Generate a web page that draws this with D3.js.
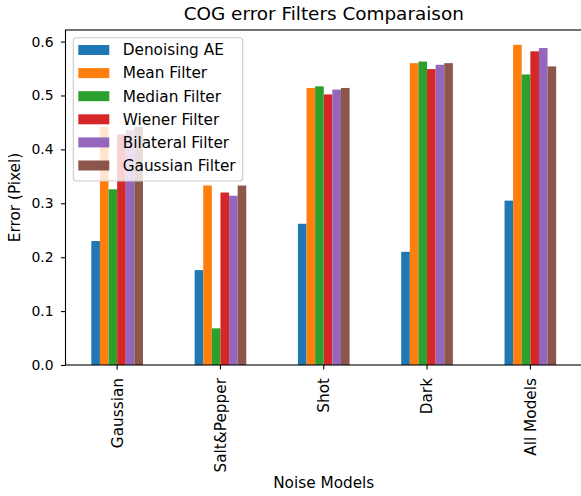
<!DOCTYPE html>
<html>
<head>
<meta charset="utf-8">
<script src="https://cdn.jsdelivr.net/npm/d3@7"></script>
<style>
  body { margin: 0; background: #fff; }
  svg { font-family: "DejaVu Sans", sans-serif; }
</style>
</head>
<body>
<svg id="chart" width="581" height="496"></svg>
<script>
// noise models on the x axis
const noiseModels = ["Gaussian", "Salt&Pepper", "Shot", "Dark", "All Models"];

// one series per filter
const filterNames = ["Denoising AE", "Mean Filter", "Median Filter", "Wiener Filter", "Bilateral Filter", "Gaussian Filter"];
const denoisingAE = [0.230, 0.176, 0.262, 0.210, 0.305];
const meanFilter = [0.442, 0.333, 0.514, 0.560, 0.594];
const medianFilter = [0.326, 0.068, 0.517, 0.563, 0.539];
const wienerFilter = [0.428, 0.320, 0.502, 0.549, 0.582];
const bilateralFilter = [0.436, 0.314, 0.511, 0.557, 0.588];
const gaussianFilter = [0.442, 0.333, 0.514, 0.560, 0.554];

const yTicks = [0.0, 0.1, 0.2, 0.3, 0.4, 0.5, 0.6];
const colors = ["#1f77b4", "#ff7f0e", "#2ca02c", "#d62728", "#9467bd", "#8c564b"];

const series = [denoisingAE, meanFilter, medianFilter, wienerFilter, bilateralFilter, gaussianFilter];

const MARGIN = { LEFT: 65.5, RIGHT: 582, TOP: 30, BOTTOM: 365 };
const FONT = "15.3px";
const svg = d3.select("#chart");

// pandas style: groups take half of each slot
const x = d3.scaleBand()
  .domain(noiseModels)
  .range([MARGIN.LEFT, MARGIN.RIGHT])
  .paddingInner(0.5)
  .paddingOuter(0.25);

const xInner = d3.scaleBand()
  .domain(filterNames)
  .range([0, x.bandwidth()]);

const y = d3.scaleLinear()
  .domain([0, 0.6215])
  .range([MARGIN.BOTTOM, MARGIN.TOP]);

// bars
filterNames.forEach((name, i) => {
  svg.append("g")
    .attr("fill", colors[i])
    .selectAll("rect")
    .data(series[i])
    .join("rect")
    .attr("x", (d, j) => x(noiseModels[j]) + xInner(name))
    .attr("y", (d) => y(d))
    .attr("width", xInner.bandwidth())
    .attr("height", (d) => y(0) - y(d));
});

// axes
const yAxis = svg.append("g")
  .attr("transform", `translate(${MARGIN.LEFT},0)`)
  .call(d3.axisLeft(y).tickValues(yTicks).tickFormat(d3.format(".1f")).tickSize(4.5).tickPadding(7.5));

const xAxis = svg.append("g")
  .attr("transform", `translate(0,${MARGIN.BOTTOM})`)
  .call(d3.axisBottom(x).tickSize(4.5).tickPadding(3.5));

[yAxis, xAxis].forEach((g) => {
  g.select(".domain").remove();
  g.selectAll(".tick line").attr("stroke", "#000").attr("stroke-width", 1.1);
  g.selectAll(".tick text").attr("fill", "#000").style("font-family", "DejaVu Sans, sans-serif");
});
yAxis.selectAll(".tick text").style("font-size", "13.9px");

xAxis.selectAll(".tick text")
  .style("font-size", FONT)
  .attr("transform", "rotate(-90)")
  .attr("text-anchor", "end")
  .attr("x", -13)
  .attr("y", 0)
  .attr("dy", "0.35em");

// frame
svg.append("rect")
  .attr("x", MARGIN.LEFT)
  .attr("y", MARGIN.TOP)
  .attr("width", MARGIN.RIGHT - MARGIN.LEFT)
  .attr("height", MARGIN.BOTTOM - MARGIN.TOP)
  .attr("fill", "none")
  .attr("stroke", "#000")
  .attr("stroke-width", 1.1);

// title and axis labels
svg.append("text")
  .attr("x", (MARGIN.LEFT + MARGIN.RIGHT) / 2)
  .attr("y", 20)
  .attr("text-anchor", "middle")
  .style("font-size", "18.4px")
  .text("COG error Filters Comparaison");

svg.append("text")
  .attr("x", (MARGIN.LEFT + MARGIN.RIGHT) / 2)
  .attr("y", 488)
  .attr("text-anchor", "middle")
  .style("font-size", FONT)
  .text("Noise Models");

svg.append("text")
  .attr("transform", `translate(20,${(MARGIN.TOP + MARGIN.BOTTOM) / 2}) rotate(-90)`)
  .attr("text-anchor", "middle")
  .style("font-size", FONT)
  .text("Error (Pixel)");

// legend
const legend = svg.append("g").attr("transform", "translate(73.3,37.7)");
legend.append("rect")
  .attr("width", 169.4)
  .attr("height", 143.3)
  .attr("rx", 3)
  .attr("fill", "#fff")
  .attr("fill-opacity", 0.8)
  .attr("stroke", "#ccc")
  .attr("stroke-width", 1.1);

filterNames.forEach((name, i) => {
  const row = legend.append("g").attr("transform", `translate(0,${12.3 + i * 23.1})`);
  row.append("rect")
    .attr("x", 5)
    .attr("y", -5)
    .attr("width", 31)
    .attr("height", 10)
    .attr("fill", colors[i]);
  row.append("text")
    .attr("x", 49.4)
    .attr("dy", "0.35em")
    .style("font-size", FONT)
    .text(name);
});
</script>
</body>
</html>
